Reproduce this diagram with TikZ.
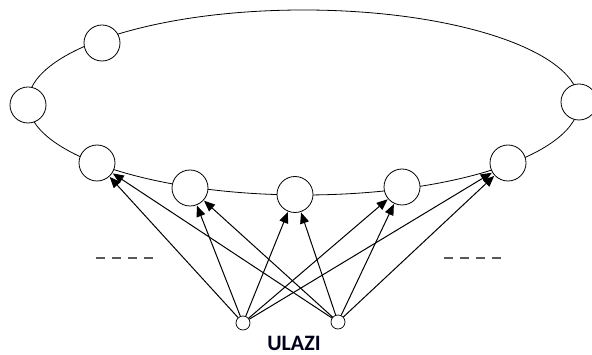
\documentclass[tikz,border=0pt]{standalone}
\usepackage{fontspec}
\setmainfont{Carlito}
\usetikzlibrary{arrows.meta}
\begin{document}
\begin{tikzpicture}[x=1pt,y=-1pt,
  neuron/.style={circle,draw,line width=0.8pt,fill=white,minimum size=36pt,inner sep=0pt},
  inpt/.style={circle,draw,line width=0.7pt,fill=white,minimum size=14pt,inner sep=0pt},
  link/.style={line width=1pt,-{Triangle[length=11pt,width=9pt]},shorten >=0.5pt},
  dots/.style={draw=black!65,line width=1.4pt,dash pattern=on 9pt off 7pt}]
\useasboundingbox (0,0) rectangle (592,355);
\clip (0,0) rectangle (592,355);
% ring of the map
\draw[line width=0.8pt] (303.5,102.5) ellipse [x radius=275.5, y radius=92.5];
% neurons
\node[neuron] (t1) at (102,43) {};
\node[neuron] (l1) at (28,105) {};
\node[neuron] (r1) at (579,102) {};
\node[neuron] (b1) at (97,163) {};
\node[neuron] (b2) at (190,188) {};
\node[neuron] (b3) at (295,194.5) {};
\node[neuron] (b4) at (402,187) {};
\node[neuron] (b5) at (508,163) {};
% inputs
\node[inpt] (i1) at (243,323) {};
\node[inpt] (i2) at (338,322) {};
\node[text=black!90!blue,font=\fontsize{22}{22}\selectfont\bfseries,anchor=base,inner sep=0pt] (lab) at (294,350.5) {ULAZI};
% connections
\foreach \s in {i1,i2}
  \foreach \t in {b1,b2,b3,b4,b5}
    \draw[link] (\s) -- (\t);
% ellipsis marks
\draw[dots] (96,258) -- (157,258);
\draw[dots] (444,258) -- (505,258);
\end{tikzpicture}
\end{document}
